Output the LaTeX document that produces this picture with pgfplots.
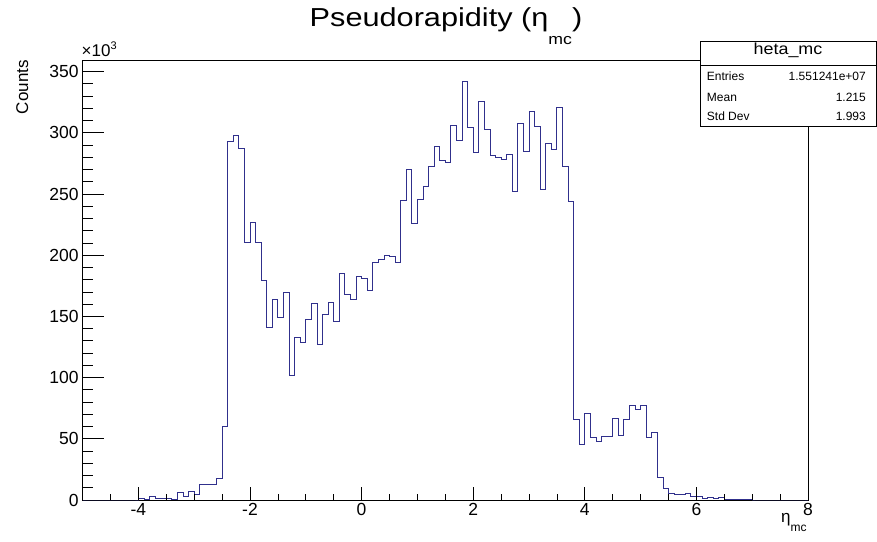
\documentclass[border=0pt]{standalone}
\usepackage{fontspec}
\setmainfont{Liberation Sans}
\usepackage{pgfplots}
\usepackage{pgfplotstable}
\pgfplotsset{compat=1.18}
\definecolor{rootblue}{RGB}{48,48,140}

\pgfplotstableread{
x y
-5.0 0
-4.9 0
-4.8 0
-4.7 0
-4.6 0
-4.5 0
-4.4 0
-4.3 0
-4.2 0
-4.1 0
-4.0 1.5
-3.9 0.6
-3.8 3.3
-3.7 1.1
-3.6 1.1
-3.5 1.1
-3.4 0.3
-3.3 6.5
-3.2 2.8
-3.1 6.6
-3.0 4.8
-2.9 12.6
-2.8 12.8
-2.7 12.7
-2.6 17.7
-2.5 60.0
-2.4 293
-2.3 298
-2.2 287
-2.1 210.5
-2.0 226.5
-1.9 210.5
-1.8 179
-1.7 141
-1.6 164
-1.5 149
-1.4 169.5
-1.3 102
-1.2 133
-1.1 129
-1.0 147.6
-0.9 160.7
-0.8 127
-0.7 151.7
-0.6 161.5
-0.5 145.7
-0.4 185.2
-0.3 168.3
-0.2 164
-0.1 182.5
0.0 181.1
0.1 171
0.2 194.2
0.3 196.9
0.4 199.6
0.5 198.8
0.6 193.9
0.7 245
0.8 270.4
0.9 226
1.0 245.9
1.1 256
1.2 272.9
1.3 288.7
1.4 277.8
1.5 275.9
1.6 306.4
1.7 294.1
1.8 342.3
1.9 304.2
2.0 283.8
2.1 326
2.2 302.8
2.3 281.3
2.4 280
2.5 278.6
2.6 282.4
2.7 251.9
2.8 307.7
2.9 284.6
3.0 317.3
3.1 305.6
3.2 254.1
3.3 291.4
3.4 286.8
3.5 320.8
3.6 272.5
3.7 243.7
3.8 66
3.9 45.6
4.0 70.8
4.1 51
4.2 48.2
4.3 51.7
4.4 52
4.5 66.7
4.6 52.5
4.7 66
4.8 77
4.9 74.3
5.0 77
5.1 50.9
5.2 55.2
5.3 18.3
5.4 9.5
5.5 5.4
5.6 4.6
5.7 4.6
5.8 5.4
5.9 3
6.0 2.7
6.1 1.4
6.2 2.1
6.3 1.4
6.4 2.2
6.5 0.8
6.6 0.5
6.7 0.5
6.8 0.5
6.9 0.3
7.0 0
7.1 0
7.2 0
7.3 0
7.4 0
7.5 0
7.6 0
7.7 0
7.8 0
7.9 0
8.0 0
}\histdata

\begin{document}
\begin{tikzpicture}[x=1pt,y=1pt]
\path[use as bounding box] (0,0) rectangle (877,541);
% main axis: frame, data, y ticks
\begin{axis}[
  at={(82.6pt,41pt)}, anchor=south west,
  width=725.4pt, height=440pt, scale only axis,
  xmin=-5, xmax=8, ymin=0, ymax=359.5,
  axis line style={black, line width=0.8pt},
  xtick=\empty,
  ytick={0,50,...,350},
  minor ytick={0,10,...,350},
  ytick pos=left,
  tick align=inside,
  major tick length=21pt,
  minor tick length=10.7pt,
  tick style={black, line width=0.8pt},
  scaled y ticks=false,
  /pgf/number format/assume math mode=true,
  yticklabel style={font=\fontsize{17.5}{17.5}\selectfont, xshift=-0.5pt},
]
\addplot[const plot, draw=rootblue, line width=0.85pt] table[x=x,y=y] {\histdata};
\end{axis}
% second axis: x ticks only
\begin{axis}[
  at={(82.6pt,41pt)}, anchor=south west,
  width=725.4pt, height=440pt, scale only axis,
  xmin=-5, xmax=8, ymin=0, ymax=359.5,
  hide y axis,
  axis line style={black, line width=0.8pt},
  xtick={-4,-2,...,8},
  minor xtick={-5,-4.5,...,8},
  xtick pos=bottom,
  tick align=inside,
  major tick length=13pt,
  minor tick length=6.5pt,
  tick style={black, line width=0.8pt},
  /pgf/number format/assume math mode=true,
  xticklabel style={font=\fontsize{17.5}{17.5}\selectfont},
]
\end{axis}
% title
\node[anchor=base, inner sep=0pt] at (446,514) {\scalebox{1.18}[1]{\fontsize{26}{26}\selectfont Pseudorapidity (η\raisebox{-18pt}{\fontsize{15}{15}\selectfont mc})}};
% y multiplier
\node[anchor=base west, inner sep=0pt] at (81.5,484) {\fontsize{17}{17}\selectfont ×10\raisebox{7.5pt}{\fontsize{11}{11}\selectfont 3}};
% y label
\node[rotate=90, anchor=base east, inner sep=0pt] at (28,481) {\fontsize{17}{17}\selectfont Counts};
% x label
\node[anchor=base west, inner sep=0pt] at (781,19) {\fontsize{17}{17}\selectfont η\raisebox{-9pt}{\fontsize{12}{12}\selectfont mc}};
% stats box
\draw[fill=white, line width=0.8pt] (700,499.3) rectangle (876.5,414.3);
\draw[line width=0.8pt] (700,476) -- (876.5,476);
\node[anchor=base, inner sep=0pt] at (788,486) {\scalebox{1.12}[1]{\fontsize{16}{16}\selectfont heta\_mc}};
\node[anchor=base west, inner sep=0pt] at (706.7,460.3) {\fontsize{12}{12}\selectfont Entries};
\node[anchor=base east, inner sep=0pt] at (866,460.3) {\fontsize{12}{12}\selectfont 1.551241e+07};
\node[anchor=base west, inner sep=0pt] at (706.7,439) {\fontsize{12}{12}\selectfont Mean};
\node[anchor=base east, inner sep=0pt] at (866,439) {\fontsize{12}{12}\selectfont 1.215};
\node[anchor=base west, inner sep=0pt] at (706.7,420) {\fontsize{12}{12}\selectfont Std Dev};
\node[anchor=base east, inner sep=0pt] at (866,420) {\fontsize{12}{12}\selectfont 1.993};
\end{tikzpicture}
\end{document}
